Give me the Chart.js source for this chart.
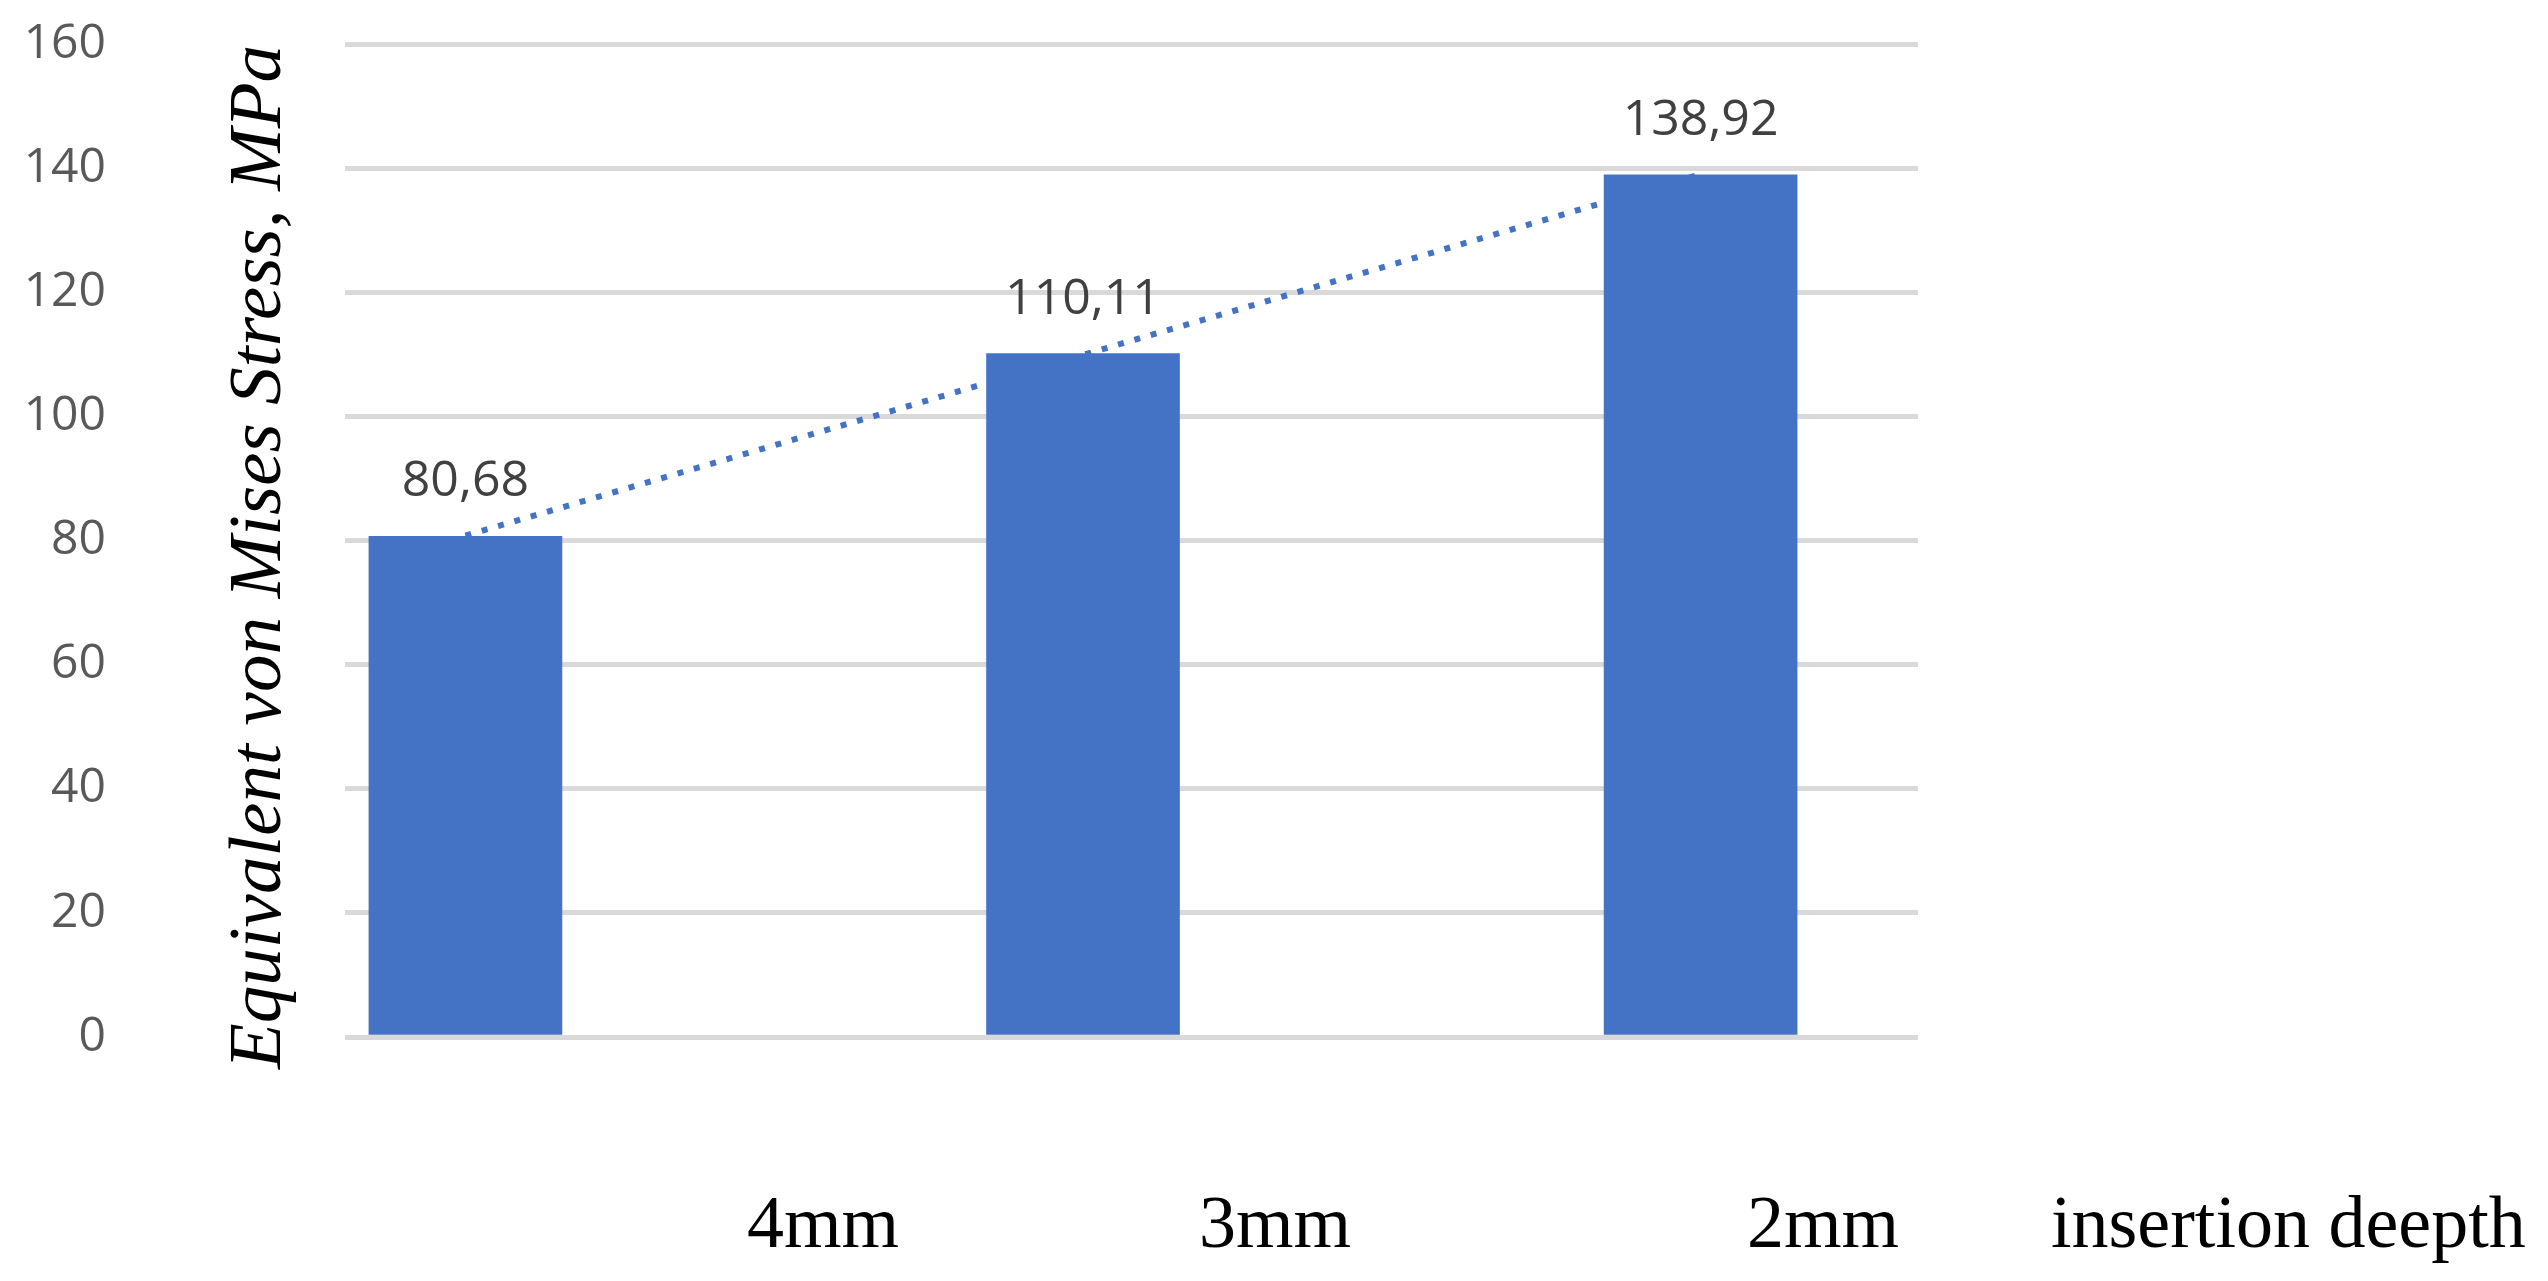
<!DOCTYPE html>
<html>
<head>
<meta charset="utf-8">
<script src="https://cdn.jsdelivr.net/npm/chart.js@4.4.1/dist/chart.umd.min.js"></script>
<style>
html,body{margin:0;padding:0;background:#fff;overflow:hidden}
canvas{display:block}
</style>
</head>
<body>
<canvas id="c" width="2548" height="1281"></canvas>
<script>
// ---- data ----
const categories = ['4mm', '3mm', '2mm'];
const stressValues = [80.68, 110.11, 138.92];
const trendValues = [80.78, 139.02];          // dotted linear trend line, first to last category
const yTickValues = [0, 20, 40, 60, 80, 100, 120, 140, 160];
const yTitle = 'Equivalent von Mises Stress, MPa';
const xTitle = 'insertion deepth';

// ---- styles ----
const BLUE = '#4472C4';
const GRID = '#D9D9D9';

const textPlugin = {
  id: 'texts',
  afterDatasetsDraw(chart) {
    const ctx = chart.ctx;
    const area = chart.chartArea;
    ctx.save();
    // data labels above bars
    const meta = chart.getDatasetMeta(1);
    ctx.font = '50px "Open Sans"';
    ctx.fillStyle = '#404040';
    ctx.textAlign = 'center';
    ctx.textBaseline = 'alphabetic';
    meta.data.forEach((bar, i) => {
      ctx.fillText(stressValues[i].toFixed(2).replace('.', ','), bar.x, bar.y - 40);
    });
    // y axis title (between tick labels and plot)
    ctx.save();
    ctx.font = 'italic 75px "Liberation Serif"';
    ctx.fillStyle = '#000';
    ctx.translate(area.left - 65, area.top + 513);
    ctx.rotate(-Math.PI / 2);
    ctx.textAlign = 'center';
    ctx.fillText(yTitle, 0, 0);
    ctx.restore();
    // category labels and x title
    ctx.font = '74px "Liberation Serif"';
    ctx.fillStyle = '#000';
    ctx.textAlign = 'left';
    const offsets = [402, 854, 1402];
    const baseY = area.bottom + 210;
    categories.forEach((c, i) => ctx.fillText(c, area.left + offsets[i], baseY));
    ctx.fillText(xTitle, area.left + 1706, baseY);
    ctx.restore();
  }
};

new Chart(document.getElementById('c'), {
  type: 'bar',
  data: {
    datasets: [
      {
        type: 'line',
        label: 'trend',
        data: trendValues.map((v, i) => ({ x: i * (categories.length - 1), y: v })),
        borderColor: BLUE,
        borderWidth: 6,
        borderDash: [6, 11],
        borderCapStyle: 'butt',
        pointRadius: 0,
        fill: false,
        tension: 0,
        order: 2
      },
      {
        type: 'bar',
        label: 'stress',
        data: stressValues.map((v, i) => ({ x: i, y: v })),
        backgroundColor: BLUE,
        borderWidth: 0,
        barThickness: 193,
        order: 1
      }
    ]
  },
  options: {
    responsive: false,
    animation: false,
    devicePixelRatio: 1,
    layout: { padding: { left: 0, right: 630, top: 44, bottom: 244 } },
    plugins: { legend: { display: false }, tooltip: { enabled: false } },
    scales: {
      x: {
        type: 'linear',
        min: -0.195,
        max: 2.352,
        offset: false,
        display: false
      },
      y: {
        min: yTickValues[0],
        max: yTickValues[yTickValues.length - 1],
        afterFit(scale) {
          scale.width = 345;
          scale.paddingTop = 0;
          scale.paddingBottom = 0;
        },
        afterBuildTicks(scale) { scale.ticks = yTickValues.map(v => ({ value: v })); },
        ticks: {
          padding: 239,
          color: '#595959',
          font: { family: 'Open Sans', size: 48 }
        },
        grid: { color: GRID, lineWidth: 5, drawTicks: false },
        border: { display: false }
      }
    }
  },
  plugins: [textPlugin]
});
</script>
</body>
</html>
